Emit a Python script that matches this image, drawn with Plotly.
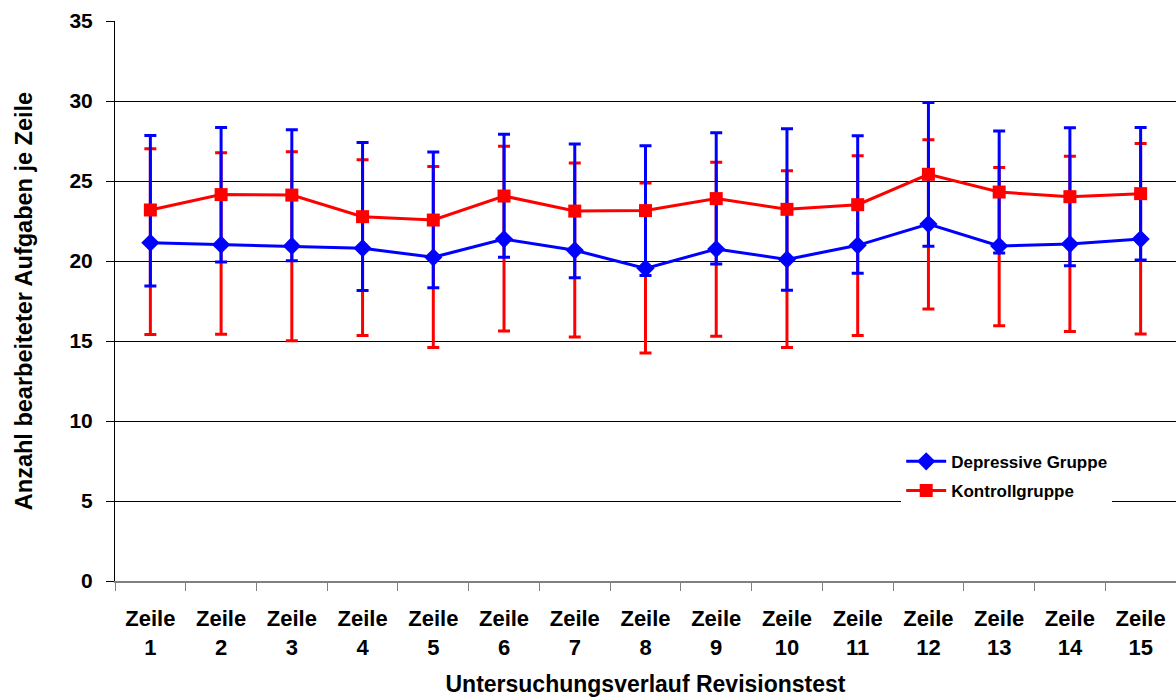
import plotly.graph_objects as go

categories = [f"Zeile {i}" for i in range(1, 16)]
tick_labels = [f"<b>Zeile</b><br><b>{i}</b>" for i in range(1, 16)]
y_ticks = [0, 5, 10, 15, 20, 25, 30, 35]

dep_mean  = [21.14, 21.02, 20.94, 20.80, 20.23, 21.37, 20.67, 19.54, 20.75, 20.10, 20.98, 22.31, 20.94, 21.06, 21.37]
dep_upper = [27.85, 28.35, 28.20, 27.40, 26.81, 27.92, 27.31, 27.21, 28.02, 28.27, 27.83, 29.90, 28.12, 28.33, 28.35]
dep_lower = [18.44, 19.94, 20.02, 18.15, 18.33, 20.23, 18.96, 19.10, 19.81, 18.17, 19.23, 20.92, 20.50, 19.71, 20.06]

kon_mean  = [23.19, 24.15, 24.12, 22.77, 22.56, 24.06, 23.12, 23.15, 23.90, 23.23, 23.52, 25.42, 24.31, 24.02, 24.21]
kon_upper = [27.02, 26.77, 26.83, 26.33, 25.90, 27.17, 26.12, 24.87, 26.17, 25.64, 26.58, 27.58, 25.85, 26.54, 27.35]
kon_lower = [15.40, 15.42, 15.02, 15.35, 14.60, 15.62, 15.25, 14.25, 15.29, 14.60, 15.35, 17.00, 15.96, 15.60, 15.44]

BLUE = "#0000FF"
RED = "#FF0000"
FONT = "Liberation Sans, Arial, sans-serif"

fig = go.Figure()

# red error bars drawn first (under blue)
fig.add_trace(go.Scatter(
    x=categories, y=kon_mean, mode="markers",
    marker=dict(size=1, color="rgba(0,0,0,0)"),
    error_y=dict(type="data", symmetric=False,
                 array=[u - m for u, m in zip(kon_upper, kon_mean)],
                 arrayminus=[m - l for m, l in zip(kon_mean, kon_lower)],
                 color=RED, thickness=3, width=6),
    showlegend=False, hoverinfo="skip"))

fig.add_trace(go.Scatter(
    x=categories, y=dep_mean, mode="lines+markers", name="<b>Depressive Gruppe</b>",
    legendgroup="a",
    line=dict(color=BLUE, width=3),
    marker=dict(symbol="diamond", size=14, color=BLUE),
    error_y=dict(type="data", symmetric=False,
                 array=[u - m for u, m in zip(dep_upper, dep_mean)],
                 arrayminus=[m - l for m, l in zip(dep_mean, dep_lower)],
                 color=BLUE, thickness=3, width=6)))

fig.add_trace(go.Scatter(
    x=categories, y=kon_mean, mode="lines+markers", name="<b>Kontrollgruppe</b>",
    legendgroup="b",
    line=dict(color=RED, width=3),
    marker=dict(symbol="square", size=13, color=RED)))

fig.update_layout(
    width=1176, height=697,
    margin=dict(l=115, r=0, t=21, b=116),
    paper_bgcolor="white", plot_bgcolor="white",
    font=dict(family=FONT, size=17, color="black"),
    legend=dict(x=0.741, y=0.245, xanchor="left", yanchor="top",
                bgcolor="white", font=dict(size=17, family=FONT),
                itemwidth=40, tracegroupgap=4, traceorder="grouped"),
    showlegend=True,
)

fig.update_xaxes(
    type="category", range=[-0.5, 14.5], automargin=False,
    tickvals=categories, ticktext=tick_labels,
    showline=True, linecolor="#808080", linewidth=2,
    ticks="outside", tickson="boundaries", ticklen=8, tickcolor="#808080",
    ticklabelstandoff=17,
    showgrid=False,
    tickfont=dict(size=22, family=FONT),
    title=dict(text="<b>Untersuchungsverlauf Revisionstest</b>", font=dict(size=23, family=FONT), standoff=19),
)

fig.update_yaxes(
    range=[0, 35], tickvals=y_ticks, automargin=False,
    ticktext=[f"<b>{v}</b>" for v in y_ticks],
    showline=True, linecolor="black", linewidth=1,
    ticks="outside", ticklen=8, tickcolor="black",
    ticklabelstandoff=9,
    showgrid=True, gridcolor="black", gridwidth=1,
    zeroline=False,
    tickfont=dict(size=21, family=FONT),
    title=dict(text="<b>Anzahl bearbeiteter Aufgaben je Zeile</b>", font=dict(size=23.5, family=FONT), standoff=30),
)

# remove the default 8px page margin so the 1176x697 figure fills the window exactly
fig.write_html("out.html", config={"displayModeBar": False},
               post_script="document.body.style.margin='0';document.body.style.overflow='hidden';")
